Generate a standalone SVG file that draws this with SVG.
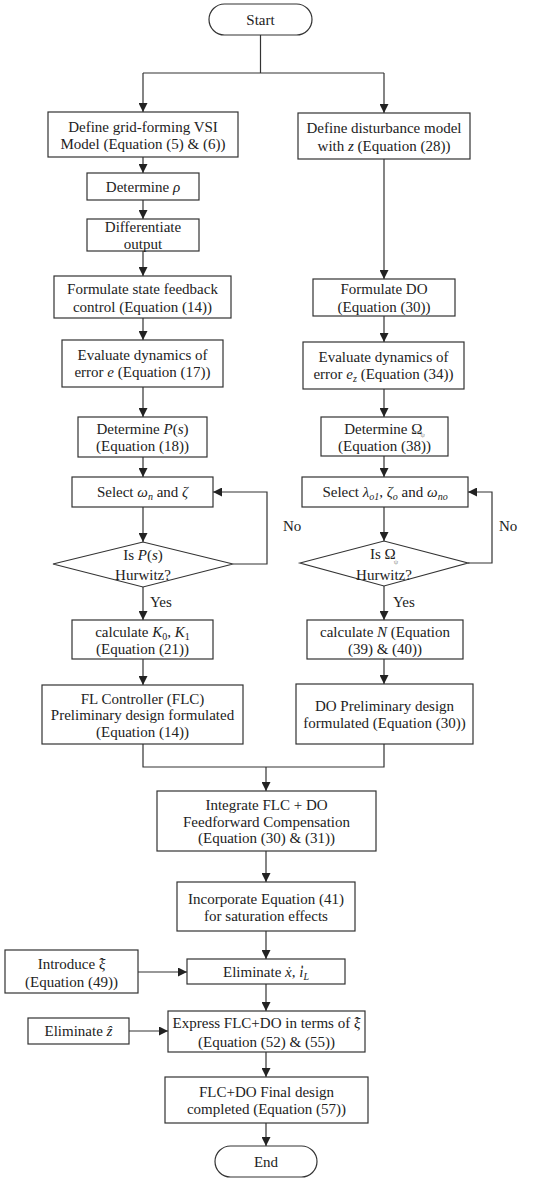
<svg xmlns="http://www.w3.org/2000/svg" width="550" height="1182" viewBox="0 0 550 1182">
<style>
.box{fill:#fff;stroke:#333;stroke-width:1.2}
.t{font-family:"Liberation Serif","DejaVu Serif",serif;font-size:15px;fill:#222;text-anchor:middle}
.l{font-family:"Liberation Serif","DejaVu Serif",serif;font-size:15px;fill:#222}
.c{fill:none;stroke:#333;stroke-width:1.2}
.a{marker-end:url(#arr)}
.i{font-style:italic}
.s{font-size:10px}
.g{fill:#999;font-size:7px}
</style>
<defs>
<marker id="arr" markerUnits="userSpaceOnUse" markerWidth="9" markerHeight="9" viewBox="0 0 10 10" refX="10" refY="5" orient="auto">
<path d="M0,0 L10,5 L0,10 z" fill="#222"/>
</marker>
</defs>
<rect width="550" height="1182" fill="#fff"/>
<g id="connectors">
<path class="c" d="M260.5,35 V73 M143,73 H384"/>
<path class="c a" d="M143,73 V112"/>
<path class="c a" d="M384,73 V113"/>
<path class="c a" d="M143,157 V173"/>
<path class="c a" d="M143,200 V219"/>
<path class="c a" d="M143,251 V276"/>
<path class="c a" d="M143,318 V340"/>
<path class="c a" d="M143,387 V417"/>
<path class="c a" d="M143,457 V477"/>
<path class="c a" d="M143,507 V542"/>
<path class="c a" d="M143,587 V620"/>
<path class="c a" d="M143,659 V685"/>
<path class="c a" d="M233,564 H267 V492 H213"/>
<path class="c a" d="M384,159 V279"/>
<path class="c a" d="M384,316 V342"/>
<path class="c a" d="M384,389 V417"/>
<path class="c a" d="M384,456 V477"/>
<path class="c a" d="M384,507 V541"/>
<path class="c a" d="M384,586 V620"/>
<path class="c a" d="M384,659 V684"/>
<path class="c a" d="M468,563 H492 V492 H468"/>
<path class="c" d="M143,744 V767 H384 V744"/>
<path class="c a" d="M266,767 V791"/>
<path class="c a" d="M266,851 V882"/>
<path class="c a" d="M266,931 V959"/>
<path class="c a" d="M138,972 H187"/>
<path class="c a" d="M266,984 V1011"/>
<path class="c a" d="M129,1031 H168"/>
<path class="c a" d="M266,1052 V1077"/>
<path class="c a" d="M266,1123 V1146"/>
<text class="l" x="283" y="531">No</text>
<text class="l" x="499" y="531">No</text>
<text class="l" x="150" y="607">Yes</text>
<text class="l" x="393" y="607">Yes</text>
</g>
<g id="start">
<rect class="box" x="209" y="4" width="103" height="31" rx="15.5"/>
<text class="t" x="260.5" y="25">Start</text>
</g>
<g id="define-vsi">
<rect class="box" x="48" y="112" width="190" height="45"/>
<text class="t" x="143" y="132">Define grid-forming VSI</text>
<text class="t" x="143" y="149">Model (Equation (5) &amp; (6))</text>
</g>
<g id="define-disturbance">
<rect class="box" x="298" y="113" width="172" height="46"/>
<text class="t" x="384" y="133">Define disturbance model</text>
<text class="t" x="384" y="151">with <tspan class="i">z</tspan> (Equation (28))</text>
</g>
<g id="determine-rho">
<rect class="box" x="87" y="173" width="112" height="27"/>
<text class="t" x="143" y="192">Determine <tspan class="i">ρ</tspan></text>
</g>
<g id="differentiate">
<rect class="box" x="87" y="219" width="112" height="32"/>
<text class="t" x="143" y="232">Differentiate</text>
<text class="t" x="143" y="249">output</text>
</g>
<g id="formulate-sfc">
<rect class="box" x="54" y="276" width="177" height="42"/>
<text class="t" x="142.5" y="294">Formulate state feedback</text>
<text class="t" x="142.5" y="312">control (Equation (14))</text>
</g>
<g id="evaluate-e">
<rect class="box" x="62" y="340" width="161" height="47"/>
<text class="t" x="142.5" y="360">Evaluate dynamics of</text>
<text class="t" x="142.5" y="377">error <tspan class="i">e</tspan> (Equation (17))</text>
</g>
<g id="formulate-do">
<rect class="box" x="313" y="279" width="142" height="37"/>
<text class="t" x="384" y="294">Formulate DO</text>
<text class="t" x="384" y="312">(Equation (30))</text>
</g>
<g id="evaluate-ez">
<rect class="box" x="303" y="342" width="161" height="47"/>
<text class="t" x="383.5" y="362">Evaluate dynamics of</text>
<text class="t" x="383.5" y="379">error <tspan class="i">e</tspan><tspan class="i s" dy="3">z</tspan><tspan dy="-3"> (Equation (34))</tspan></text>
</g>
<g id="determine-ps">
<rect class="box" x="78" y="417" width="129" height="40"/>
<text class="t" x="142.5" y="434">Determine <tspan class="i">P</tspan>(<tspan class="i">s</tspan>)</text>
<text class="t" x="142.5" y="451">(Equation (18))</text>
</g>
<g id="select-wn">
<rect class="box" x="72" y="477" width="141" height="30"/>
<text class="t" x="142.5" y="497">Select <tspan class="i">ω</tspan><tspan class="i s" dy="3">n</tspan><tspan dy="-3"> and </tspan><tspan class="i">ζ</tspan></text>
</g>
<g id="is-ps-hurwitz">
<polygon class="box" points="53,564 143,542 233,564 143,587"/>
<text class="t" x="143" y="560">Is <tspan class="i">P</tspan>(<tspan class="i">s</tspan>)</text>
<text class="t" x="143" y="580">Hurwitz?</text>
</g>
<g id="determine-omega">
<rect class="box" x="321" y="417" width="127" height="39"/>
<text class="t" x="384.5" y="434">Determine Ω<tspan class="g" dx="-2" dy="3">ψ</tspan></text>
<text class="t" x="384.5" y="451">(Equation (38))</text>
</g>
<g id="select-lambda">
<rect class="box" x="302" y="477" width="166" height="30"/>
<text class="t" x="385" y="497">Select <tspan class="i">λ</tspan><tspan class="i s" dy="3">o1</tspan><tspan dy="-3">, </tspan><tspan class="i">ζ</tspan><tspan class="i s" dy="3">o</tspan><tspan dy="-3"> and </tspan><tspan class="i">ω</tspan><tspan class="i s" dy="3">no</tspan></text>
</g>
<g id="is-omega-hurwitz">
<polygon class="box" points="300,563 384,541 468,563 384,586"/>
<text class="t" x="384" y="559">Is Ω<tspan class="g" dx="-2" dy="5">ψ</tspan></text>
<text class="t" x="384" y="580">Hurwitz?</text>
</g>
<g id="calculate-k">
<rect class="box" x="72" y="620" width="141" height="39"/>
<text class="t" x="142.5" y="637">calculate <tspan class="i">K</tspan><tspan class="s" dy="3">0</tspan><tspan dy="-3">,  </tspan><tspan class="i">K</tspan><tspan class="s" dy="3">1</tspan></text>
<text class="t" x="142.5" y="654">(Equation (21))</text>
</g>
<g id="flc-preliminary">
<rect class="box" x="42" y="685" width="201" height="59"/>
<text class="t" x="142.5" y="704">FL Controller (FLC)</text>
<text class="t" x="142.5" y="720">Preliminary design formulated</text>
<text class="t" x="142.5" y="737">(Equation (14))</text>
</g>
<g id="calculate-n">
<rect class="box" x="307" y="620" width="156" height="39"/>
<text class="t" x="385" y="637">calculate <tspan class="i">N</tspan> (Equation</text>
<text class="t" x="385" y="654">(39) &amp; (40))</text>
</g>
<g id="do-preliminary">
<rect class="box" x="296" y="684" width="177" height="60"/>
<text class="t" x="384.5" y="711">DO Preliminary design</text>
<text class="t" x="384.5" y="728">formulated (Equation (30))</text>
</g>
<g id="integrate">
<rect class="box" x="157" y="791" width="219" height="60"/>
<text class="t" x="266.5" y="810">Integrate FLC + DO</text>
<text class="t" x="266.5" y="827">Feedforward Compensation</text>
<text class="t" x="266.5" y="843">(Equation (30) &amp; (31))</text>
</g>
<g id="incorporate">
<rect class="box" x="177" y="882" width="178" height="49"/>
<text class="t" x="266" y="904">Incorporate Equation (41)</text>
<text class="t" x="266" y="921">for saturation effects</text>
</g>
<g id="eliminate-x">
<rect class="box" x="187" y="959" width="158" height="25"/>
<text class="t" x="266" y="977">Eliminate <tspan class="i">ẋ</tspan>, <tspan class="i">i̇</tspan><tspan class="i s" dy="3">L</tspan></text>
</g>
<g id="introduce-xi">
<rect class="box" x="5" y="950" width="133" height="43"/>
<text class="t" x="71.5" y="969">Introduce <tspan class="i">ξ</tspan><tspan dx="-6" dy="-1">ˆ</tspan></text>
<text class="t" x="71.5" y="987">(Equation (49))</text>
</g>
<g id="express">
<rect class="box" x="168" y="1011" width="197" height="41"/>
<text class="t" x="266.5" y="1028">Express FLC+DO in terms of <tspan class="i">ξ</tspan><tspan dx="-6" dy="-1">ˆ</tspan></text>
<text class="t" x="266.5" y="1047">(Equation (52) &amp; (55))</text>
</g>
<g id="eliminate-z">
<rect class="box" x="28" y="1018" width="101" height="26"/>
<text class="t" x="78.5" y="1036">Eliminate <tspan class="i">ẑ</tspan></text>
</g>
<g id="final">
<rect class="box" x="165" y="1077" width="203" height="46"/>
<text class="t" x="266.5" y="1097">FLC+DO Final design</text>
<text class="t" x="266.5" y="1114">completed (Equation (57))</text>
</g>
<g id="end">
<rect class="box" x="215" y="1146" width="102" height="31" rx="15.5"/>
<text class="t" x="266" y="1167">End</text>
</g>
</svg>
